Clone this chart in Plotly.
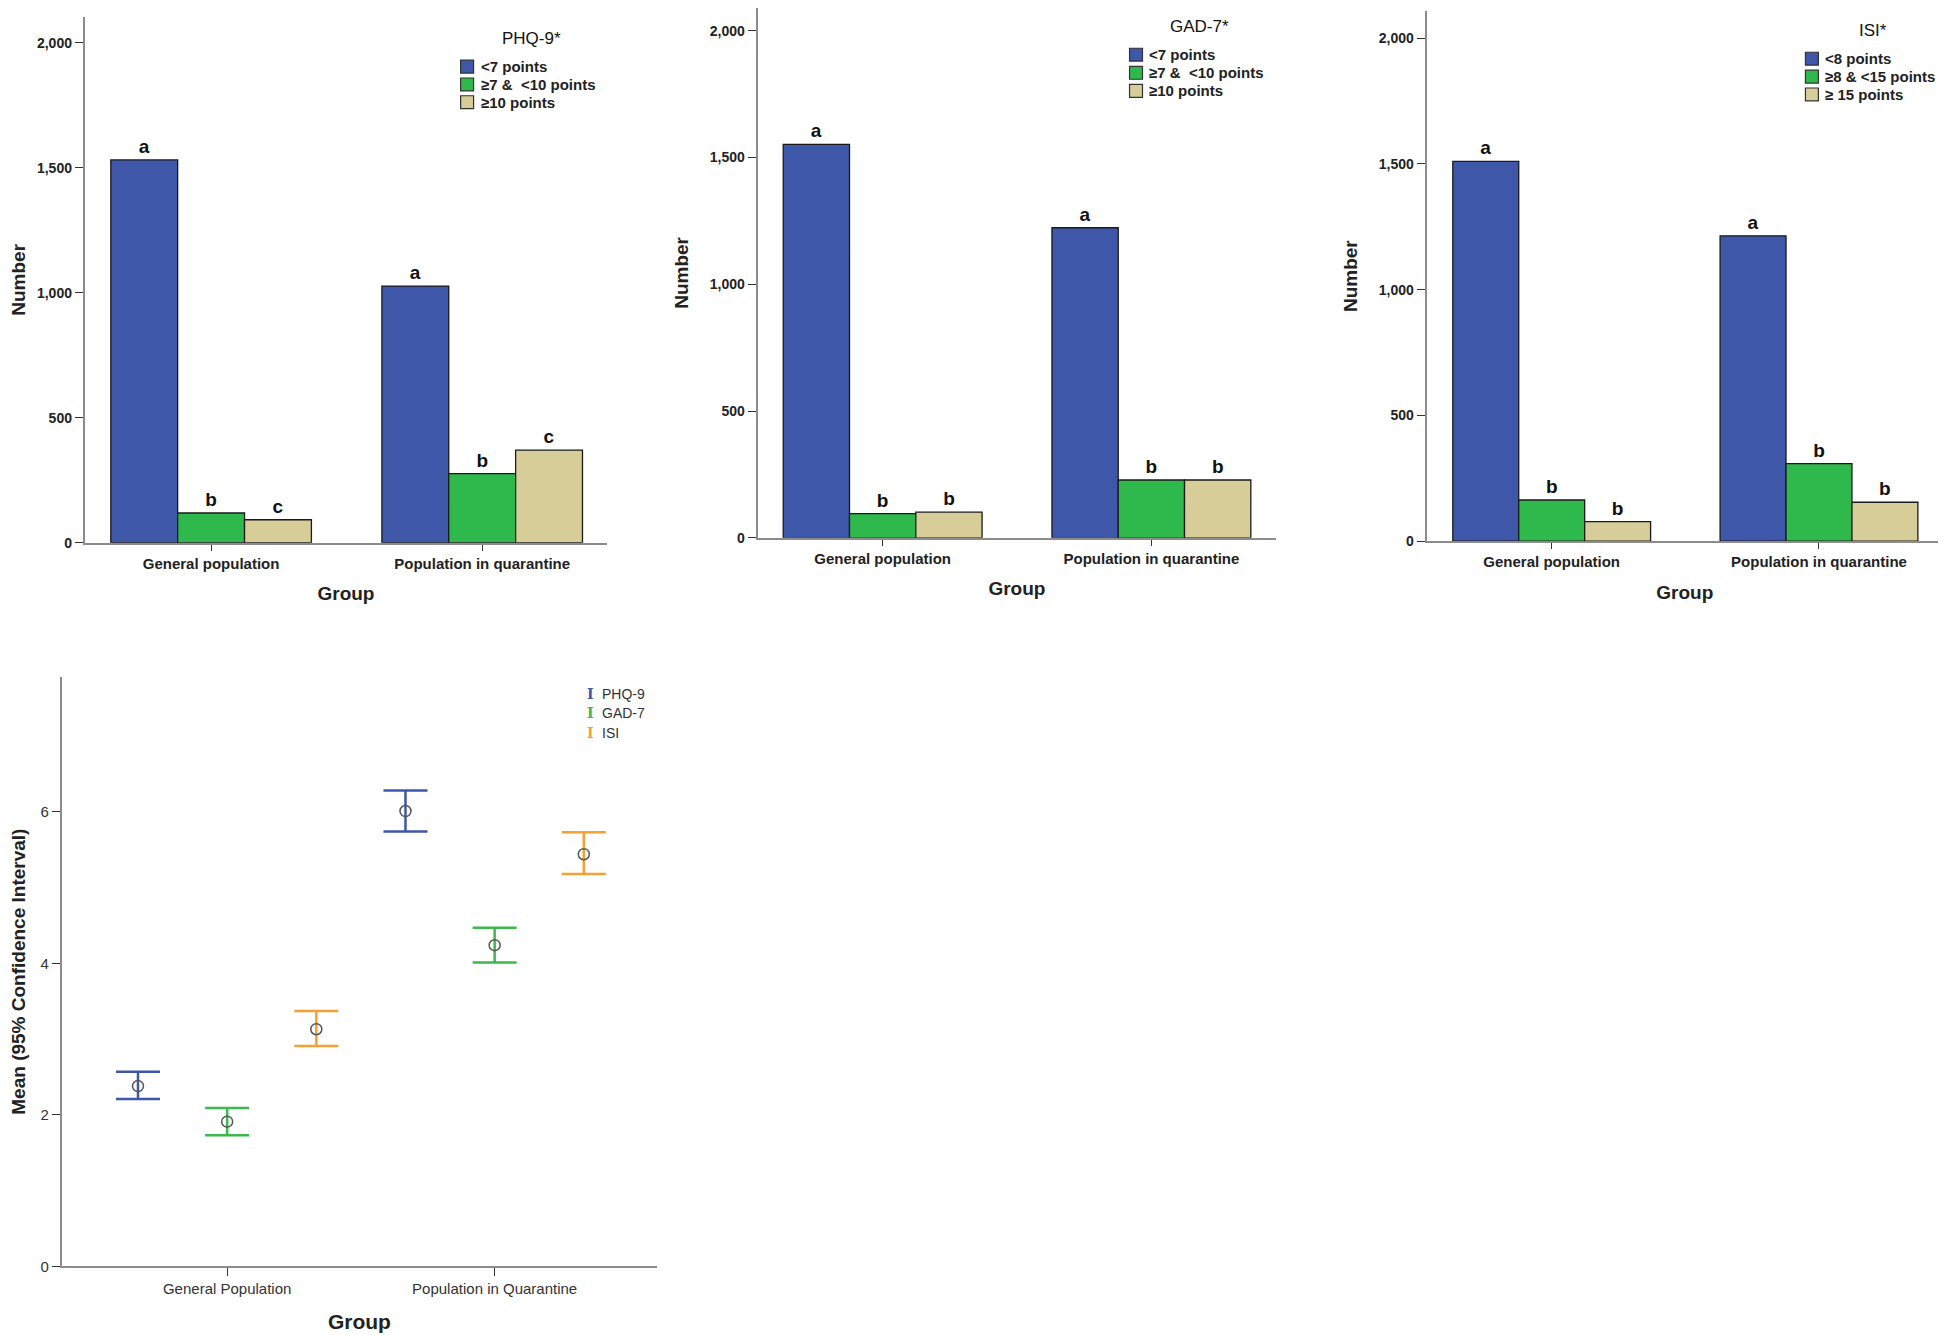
import plotly.graph_objects as go

# Page is rendered inside the default body margin: size the figure so it
# fits the window, and convert reference (page) pixels to figure pixels.
OFF_X, OFF_Y = 8, 6
W, H = 1946 - 8, 1335 - 8
FONT = "Liberation Sans, Arial, sans-serif"

groups_bar = ["General population", "Population in quarantine"]
groups_mean = ["General Population", "Population in Quarantine"]

# PHQ-9 counts
phq_labels = ["&lt;7 points", "≥7 &  &lt;10 points", "≥10 points"]
phq_low = [1532, 1027]
phq_mid = [119, 277]
phq_high = [92, 371]
phq_letters = [["a", "a"], ["b", "b"], ["c", "c"]]

# GAD-7 counts
gad_labels = ["&lt;7 points", "≥7 &  &lt;10 points", "≥10 points"]
gad_low = [1552, 1223]
gad_mid = [95, 228]
gad_high = [101, 228]
gad_letters = [["a", "a"], ["b", "b"], ["b", "b"]]

# ISI counts
isi_labels = ["&lt;8 points", "≥8 & &lt;15 points", "≥ 15 points"]
isi_low = [1510, 1214]
isi_mid = [164, 309]
isi_high = [78, 155]
isi_letters = [["a", "a"], ["b", "b"], ["b", "b"]]

# Means with 95% CI
scales = ["PHQ-9", "GAD-7", "ISI"]
mean_phq = [2.38, 6.01]
upper_phq = [2.57, 6.28]
lower_phq = [2.21, 5.74]
mean_gad = [1.91, 4.24]
upper_gad = [2.09, 4.47]
lower_gad = [1.73, 4.01]
mean_isi = [3.13, 5.44]
upper_isi = [3.37, 5.73]
lower_isi = [2.91, 5.18]

bar_colors = ["#3f57a9", "#2fb84b", "#d6cd99"]
err_colors = ["#3f57a9", "#3cb84c", "#f4a032"]


def px_x(p):
    return min(1.0, max(0.0, (p - OFF_X) / W))


def px_y(p):
    return min(1.0, max(0.0, 1 - (p - OFF_Y) / H))


fig = go.Figure()

panels = [
    ("x", "y", [phq_low, phq_mid, phq_high], phq_labels, phq_letters),
    ("x2", "y2", [gad_low, gad_mid, gad_high], gad_labels, gad_letters),
    ("x3", "y3", [isi_low, isi_mid, isi_high], isi_labels, isi_letters),
]
for xa, ya, series, labels, letters in panels:
    for vals, name, col, let in zip(series, labels, bar_colors, letters):
        fig.add_trace(go.Bar(
            x=groups_bar, y=vals, name=name, xaxis=xa, yaxis=ya,
            showlegend=False,
            marker=dict(color=col, line=dict(color="#1a1a1a", width=1.3)),
            text=let, textposition="outside", cliponaxis=False,
            constraintext="none",
            textfont=dict(family=FONT, size=19, color="#111"),
            texttemplate="<b>%{text}</b>",
        ))

mean_sets = [
    (mean_phq, upper_phq, lower_phq),
    (mean_gad, upper_gad, lower_gad),
    (mean_isi, upper_isi, lower_isi),
]
for (m, u, l), name, col in zip(mean_sets, scales, err_colors):
    fig.add_trace(go.Scatter(
        x=groups_mean, y=m, name=name, xaxis="x4", yaxis="y4", mode="markers",
        showlegend=False, offsetgroup=name,
        marker=dict(symbol="circle-open", size=11, color="#555",
                    line=dict(width=1.5, color="#555")),
        error_y=dict(type="data", symmetric=False,
                     array=[a - b for a, b in zip(u, m)],
                     arrayminus=[a - b for a, b in zip(m, l)],
                     color=col, thickness=2.5, width=22),
    ))

axis_common = dict(showline=True, linecolor="#8c8c8c", linewidth=2,
                   showgrid=False, zeroline=False, ticks="outside",
                   ticklen=8, tickcolor="#333", tickwidth=1.3)

bar_x_tick = dict(family=FONT, size=15, color="#222")
bar_y_tick = dict(family=FONT, size=14, color="#222")
title_font = dict(family=FONT, size=19, color="#222")

layout = dict(
    width=W, height=H, margin=dict(l=0, r=0, t=0, b=0),
    paper_bgcolor="white", plot_bgcolor="white",
    barmode="group", bargap=0.26, bargroupgap=0,
    scattermode="group", scattergap=0,
    font=dict(family=FONT, color="#222"),
    showlegend=False,
)

specs = [
    ("", [79, 603], [15, 544], [-0.466, 1.461], 2104),
    ("2", [754, 1274], [6, 539], [-0.465, 1.464], 2090),
    ("3", [1425, 1943], [9, 542.5], [-0.468, 1.464], 2108),
]
for s, xd, yd, xr, ytop in specs:
    layout["xaxis" + s] = dict(
        axis_common, domain=[px_x(xd[0]), px_x(xd[1])], anchor="y" + s,
        range=xr, type="category",
        tickfont=bar_x_tick, ticklen=6,
        tickprefix="<b>", ticksuffix="</b>",
        title=dict(text="<b>Group</b>", font=title_font, standoff=16),
    )
    layout["yaxis" + s] = dict(
        axis_common, domain=[px_y(yd[1]), px_y(yd[0])], anchor="x" + s,
        range=[0, ytop], dtick=500, tickformat=",",
        tickfont=bar_y_tick, tickprefix="<b>", ticksuffix="</b>",
        title=dict(text="<b>Number</b>", font=title_font, standoff=16),
    )

layout["xaxis4"] = dict(
    axis_common, domain=[px_x(56), px_x(653)], anchor="y4",
    range=[-0.618, 1.607], type="category", ticklen=8,
    tickfont=dict(family=FONT, size=15, color="#333"),
    title=dict(text="<b>Group</b>", font=dict(family=FONT, size=21, color="#222"),
               standoff=18),
)
layout["yaxis4"] = dict(
    axis_common, domain=[px_y(1272), px_y(679)], anchor="x4",
    range=[0, 7.78], tickvals=[0, 2, 4, 6],
    tickfont=dict(family=FONT, size=15, color="#333"),
    title=dict(text="<b>Mean (95% Confidence Interval)</b>",
               font=dict(family=FONT, size=19, color="#222"), standoff=16),
)

fig.update_layout(**layout)

# Bar chart legends (title, swatches, labels)
legend_titles = ["PHQ-9*", "GAD-7*", "ISI*"]
legend_labels = [phq_labels, gad_labels, isi_labels]
# (title centre x, title y, swatch left x, first row y, row step)
legend_geo = [(527, 37, 456, 65, 17.9), (1197, 25, 1127, 53, 18.2),
              (1873, 29, 1805, 57, 18.0)]
shapes = []
annots = []
for title, labels, (tx, ty, sx, ry, step) in zip(legend_titles, legend_labels, legend_geo):
    annots.append(dict(x=px_x(tx), y=px_y(ty), xref="paper", yref="paper",
                       text=title, showarrow=False, xanchor="center",
                       yanchor="middle",
                       font=dict(family=FONT, size=17, color="#111")))
    for i, (lab, col) in enumerate(zip(labels, bar_colors)):
        yc = ry + i * step
        shapes.append(dict(type="rect", xref="paper", yref="paper",
                           x0=px_x(sx), x1=px_x(sx + 13),
                           y0=px_y(yc + 6.5), y1=px_y(yc - 6.5),
                           fillcolor=col, line=dict(color="#333", width=1.2)))
        annots.append(dict(x=px_x(sx + 18), y=px_y(yc), xref="paper",
                           yref="paper", text="<b>" + lab + "</b>",
                           showarrow=False, xanchor="left", yanchor="middle",
                           font=dict(family=FONT, size=15, color="#222")))

# Mean plot legend (error-bar glyphs)
for i, (name, col) in enumerate(zip(scales, err_colors)):
    yy = px_y(696 + i * 19.5)
    annots.append(dict(x=px_x(586), y=yy, xref="paper", yref="paper",
                       text="<b>I</b>", showarrow=False, xanchor="center",
                       yanchor="middle",
                       font=dict(family="DejaVu Serif", size=14, color=col)))
    annots.append(dict(x=px_x(596), y=yy, xref="paper", yref="paper",
                       text=name, showarrow=False, xanchor="left",
                       yanchor="middle",
                       font=dict(family=FONT, size=14, color="#333")))

fig.update_layout(annotations=annots, shapes=shapes)

fig.write_html("out.html")
